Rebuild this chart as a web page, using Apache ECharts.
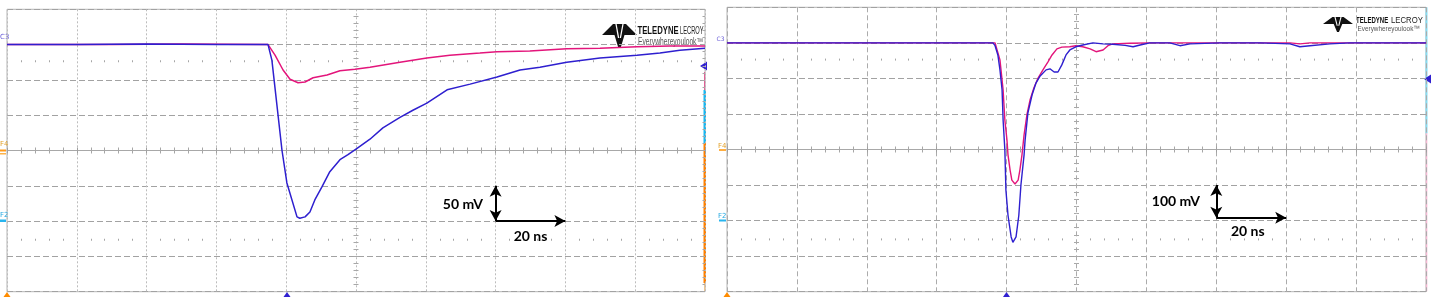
<!DOCTYPE html>
<html><head><meta charset="utf-8">
<script src="https://cdn.jsdelivr.net/npm/echarts@6/dist/echarts.min.js"></script>
<style>html,body{margin:0;padding:0;background:#fff}#c{width:1433px;height:303px}</style>
</head><body><div id="c"></div>
<script>
// time in ns relative to screen centre, amplitude in mV (screen position)
const blueLeft = [[-100,150],[-80,150],[-60,151],[-40,150],[-25.2,150],[-24.1,128],[-21.2,0],[-19.8,-46],[-16.9,-94],[-16.1,-96],[-14.6,-94],[-13.2,-87],[-11.8,-70],[-9.8,-52],[-7.5,-30],[-4.6,-13],[-2.3,-6],[0.3,3],[4,16],[7.7,32],[12.6,47],[16.3,57],[20.3,67],[26.1,86],[32.7,94],[40.4,104],[47,114],[52.7,118],[60.4,125],[69.9,131],[80.5,135],[87.1,138],[92.8,142],[100,145]];
const pinkLeft = [[-100,150],[-70,150],[-50,151],[-25.2,150],[-23.2,135],[-20.9,114],[-18.9,101],[-16.6,96],[-14.6,97],[-12.3,103],[-8.3,107],[-4.6,113],[-0.3,115],[4,118],[12.6,125],[20.3,131],[26.9,135],[35.5,138],[40.4,140],[49.8,141],[60.4,144],[69.9,145],[80.5,147],[90,148],[100,148]];
const blueRight = [[-100,300],[-23.9,300],[-23.3,292],[-22.5,266],[-21.9,224],[-21.3,168],[-21,83],[-20.5,-1],[-20.2,-114],[-19.6,-185],[-18.7,-246],[-18.2,-261],[-17.3,-246],[-16.5,-185],[-15.9,-100],[-15,-15],[-14.7,27],[-13.9,103],[-12.7,154],[-11.6,187],[-10.4,207],[-8.7,224],[-7.6,227],[-6.4,218],[-5.3,218],[-4.2,238],[-3,266],[-1.9,280],[-0.2,289],[1.8,294],[4.7,300],[7.6,297],[10.4,296],[13.9,293],[16.2,289],[18.2,294],[21,300],[26.7,300],[29.6,292],[32.5,297],[41,300],[52.5,300],[61.1,297],[63.9,289],[66.8,292],[72.5,297],[78.2,300],[100,300]];
const pinkRight = [[-100,300],[-23.3,300],[-21.9,252],[-21,168],[-20.5,83],[-19.9,27],[-19.6,-15],[-19,-58],[-18.5,-86],[-17.6,-97],[-16.7,-86],[-16.2,-58],[-15.6,-15],[-15,41],[-14.2,97],[-13.3,139],[-12.2,173],[-11,201],[-9.6,224],[-8.2,246],[-7,266],[-5.6,283],[-4.2,288],[-1.9,289],[-0.2,292],[1.8,289],[3.9,283],[5.6,275],[7.6,280],[9,292],[10.4,297],[15.3,299],[21,300],[61.1,300],[63.9,297],[66.8,300],[100,300]];
const scaleLeft = {v:'50 mV', t:'20 ns'};
const scaleRight = {v:'100 mV', t:'20 ns'};

const BLUE = '#2e1fcf', PINK = '#e3157b';
const chart = echarts.init(document.getElementById('c'), null, {renderer:'canvas'});

function xMain(g, split){
  return {type:'value', gridIndex:g, min:-100, max:100, interval:20,
    axisLine:{show:false,onZero:false}, axisTick:{show:false}, axisLabel:{show:false},
    splitLine:{show:true, lineStyle:split}};
}
function yMain(g, mn, mx, iv){
  return {type:'value', gridIndex:g, min:mn, max:mx, interval:iv,
    axisLine:{show:false,onZero:false}, axisTick:{show:false}, axisLabel:{show:false},
    splitLine:{show:true, lineStyle:{color:'#a2a2a2', type:[6,3], width:1}}};
}
function xDeco(g, pos, off, line, majorLen, minorLen, inside){
  return {type:'value', gridIndex:g, min:-100, max:100, interval:20, position:pos, offset:off, silent:true,
    axisLine:{show:line, onZero:false, lineStyle:{color:'#a8a8a8', width:1}},
    axisTick:{show:majorLen>0, inside:!!inside, length:majorLen, lineStyle:{color:'#a0a0a0'}},
    minorTick:{show:true, splitNumber:5, length:minorLen, lineStyle:{color:'#a6a6a6'}},
    axisLabel:{show:false}, splitLine:{show:false}};
}
function yDeco(g, mn, mx, iv, pos, off, len, inside){
  return {type:'value', gridIndex:g, min:mn, max:mx, interval:iv, position:pos, offset:off, silent:true,
    axisLine:{show:false, onZero:false},
    axisTick:{show:true, inside:!!inside, length:len, lineStyle:{color:'#a8a8a8'}},
    minorTick:{show:true, splitNumber:5, length:len, lineStyle:{color:'#a8a8a8'}},
    axisLabel:{show:false}, splitLine:{show:false}};
}

function scaleMarks(vTop, vBot, tx, label, lblPos){
  return {
    markLine:{silent:true, animation:false, symbolSize:[9,11], label:{show:false},
      lineStyle:{color:'#000', width:2, type:'solid'},
      data:[
        [{coord:[40,vTop], symbol:'arrow'},{coord:[40,vBot], symbol:'arrow'}],
        [{coord:[40,vBot], symbol:'none'},{coord:[60,vBot], symbol:'arrow'}]
      ]},
    markPoint:{silent:true, animation:false, symbol:'circle', symbolSize:1, itemStyle:{color:'transparent'},
      label:{show:true, color:'#000', fontWeight:'bold', fontSize:14, fontFamily:'Lato', formatter:p=>p.name},
      data:[
        {name:label.v, coord:lblPos[0], label:{position:'left', distance:0}},
        {name:label.t, coord:lblPos[1], label:{position:'inside'}}
      ]}
  };
}

function icon(x, y, sx, sy){
  return {type:'group', x:x, y:y, scaleX:sx, scaleY:sy, silent:true, children:[
    {type:'polygon', shape:{points:[[0,11],[11,0],[24,0],[35,11],[22.5,11],[18.6,24],[16.4,24],[12.5,11]]}, style:{fill:'#111'}},
    {type:'line', shape:{x1:14,y1:0,x2:16.6,y2:14}, style:{stroke:'#fff', lineWidth:1.3}},
    {type:'line', shape:{x1:21,y1:0,x2:18.4,y2:14}, style:{stroke:'#fff', lineWidth:1.3}}
  ]};
}
function txt(x, y, s, font, fill, sx){
  return {type:'text', x:x, y:y, scaleX:sx||1, silent:true,
    style:{text:s, font:font, fill:fill, textVerticalAlign:'middle'}};
}
function rect(x,y,w,h,fill){ return {type:'rect', silent:true, shape:{x:x,y:y,width:w,height:h}, style:{fill:fill}}; }
function tri(pts, fill){ return {type:'polygon', silent:true, shape:{points:pts}, style:{fill:fill}}; }

const option = {
  animation:false,
  backgroundColor:'#fff',
  grid:[
    {left:7, top:9.3, width:698, height:282.4, show:true, borderColor:'#b4b4b4', borderWidth:1},
    {left:727, top:7.3, width:699, height:284.4, show:true, borderColor:'#b4b4b4', borderWidth:1}
  ],
  xAxis:[
    xMain(0, {color:'#bcbcbc', type:[2,2], width:1}),
    xDeco(0,'bottom',-141.2,true,3,3,false),
    xDeco(0,'top',-141.2,false,3,3,false),
    xDeco(0,'top',-52.95,false,0,2,false),
    xDeco(0,'bottom',-52.95,false,0,2,false),
    xMain(1, {color:'#ababab', type:[5,3], width:1}),
    xDeco(1,'bottom',-142.2,true,3,3,false),
    xDeco(1,'top',-142.2,false,3,3,false),
    xDeco(1,'top',-53.3,false,0,2,false),
    xDeco(1,'bottom',-53.3,false,0,2,false)
  ],
  yAxis:[
    yMain(0,-200,200,50),
    yDeco(0,-200,200,50,'left',-349,2.5,false),
    yDeco(0,-200,200,50,'right',-349,2.5,false),
    yDeco(0,-200,200,50,'right',0,2.5,true),
    yMain(1,-400,400,100),
    yDeco(1,-400,400,100,'left',-349.5,2.5,false),
    yDeco(1,-400,400,100,'right',-349.5,2.5,false)
  ],
  series:[
    Object.assign({type:'line', name:'pinkL', xAxisIndex:0, yAxisIndex:0, data:pinkLeft, showSymbol:false, z:3,
      lineStyle:{color:PINK, width:1.5}, itemStyle:{color:PINK}},
      scaleMarks(-50,-100,40,scaleLeft,[[36.5,-77],[50,-122]])),
    {type:'line', name:'blueL', xAxisIndex:0, yAxisIndex:0, data:blueLeft, showSymbol:false, z:4,
      lineStyle:{color:BLUE, width:1.5}, itemStyle:{color:BLUE}},
    Object.assign({type:'line', name:'pinkR', xAxisIndex:5, yAxisIndex:4, data:pinkRight, showSymbol:false, z:3,
      lineStyle:{color:PINK, width:1.4}, itemStyle:{color:PINK}},
      scaleMarks(-100,-192,40,scaleRight,[[35.5,-145],[49,-232]])),
    {type:'line', name:'blueR', xAxisIndex:5, yAxisIndex:4, data:blueRight, showSymbol:false, z:4,
      lineStyle:{color:BLUE, width:1.4}, itemStyle:{color:BLUE}}
  ],
  graphic:[
    // logos
    icon(602,24,1,1),
    txt(637.5,31,'TELEDYNE','bold 11px "Liberation Sans"','#111',0.70),
    txt(680,31,'LECROY','11px "Liberation Sans"','#222',0.52),
    txt(638,42.5,'Everywhereyoulook\u2122','10px "Liberation Sans"','#555',0.67),
    icon(1323,17,30/35,15/24),
    txt(1356,20.3,'TELEDYNE','bold 9px "Liberation Sans"','#111',0.67),
    txt(1391,20.3,'LECROY','9px "Liberation Sans"','#222',0.86),
    txt(1357.5,28.3,'Everywhereyoulook\u2122','8px "Liberation Sans"','#555',0.8),
    // channel labels left
    txt(0,37,'C3','7px "DejaVu Sans"','#6b5fd8',1),
    txt(0,144.5,'F4','7px "DejaVu Sans"','#e2a12a',1),
    rect(0,149.5,6,2,'#ff9a1a'), rect(0,153,6,1.5,'#ffb347'),
    txt(0,215,'F2','7px "DejaVu Sans"','#27a9e1',1),
    rect(0,219.5,6,2.5,'#27b4ee'),
    // channel labels right
    txt(716.5,39.5,'C3','6px "DejaVu Sans"','#6b5fd8',1),
    txt(718,146.5,'F4','7px "DejaVu Sans"','#e2a12a',1),
    rect(719,149,7,2,'#ffae40'),
    txt(718,216.5,'F2','7px "DejaVu Sans"','#27a9e1',1),
    rect(719,219.5,7,2,'#27b4ee'),
    // right-edge indicators left panel
    rect(704,72,1.2,18,'#e06096'),
    rect(703.5,90,2.5,53,'#19b7f0'),
    rect(703.5,143,2.5,140,'#ff8000'),
    rect(704,283,1.5,8,'#e9c494'),
    tri([[700,66],[707,61.5],[707,70.5]],'#3020d0'),
    // right-edge indicators right panel
    rect(1425.5,7.3,2,126,'#86dcf2'),
    rect(1425.8,133.3,1.5,158,'#f6b6d2'),
    tri([[1424,79],[1431,74.5],[1431,83.5]],'#3020d0'),
    // bottom markers
    tri([[7,292],[3.5,297],[10.5,297]],'#ff8c00'),
    tri([[287,292],[283.5,297],[290.5,297]],'#3020d0'),
    tri([[727,292],[723.5,297],[730.5,297]],'#ff8c00'),
    tri([[1006.5,292],[1003,297],[1010,297]],'#3020d0')
  ]
};
chart.setOption(option);
</script></body></html>
